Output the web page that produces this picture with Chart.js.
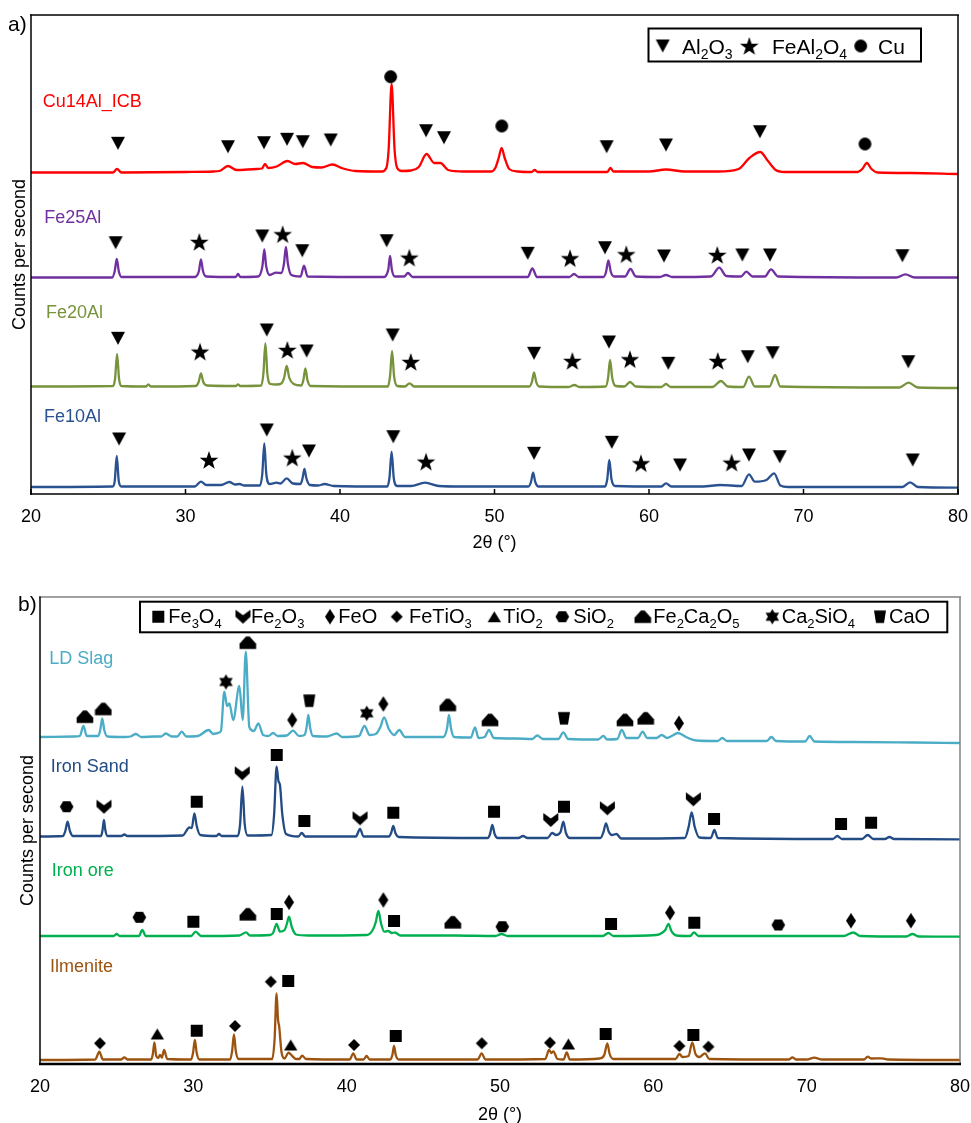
<!DOCTYPE html>
<html><head><meta charset="utf-8">
<script src="https://cdn.jsdelivr.net/npm/chart.js@4/dist/chart.umd.min.js"></script>
<style>
html,body{margin:0;padding:0;background:#fff;overflow:hidden;}
#wrapA{position:absolute;left:0;top:0;width:971px;height:558px;}
#wrapB{position:absolute;left:0;top:558px;width:971px;height:565px;}
</style></head><body>
<div id="wrapA"><canvas id="ca"></canvas></div>
<div id="wrapB"><canvas id="cb"></canvas></div>
<script>
const FONT = "Arial, 'Liberation Sans', sans-serif";
const xTicks = [20, 30, 40, 50, 60, 70, 80];

// ---------- Panel a: patterns [2θ, stacked counts] ----------
const cu14Al = [[20,321.5],[25.3,321.5],[25.57,325],[25.85,321.5],[30,322],[31.8,322.5],[32.2,323],[32.75,328],[33.3,324],[34.6,325],[34.95,325.5],[35.15,330],[35.35,326],[35.9,327.5],[36.6,333],[37.1,330],[37.6,331],[38.2,327],[38.8,326.5],[39.5,329.5],[40.2,325.5],[41,323],[42.7,322.5],[43.0,326],[43.15,345],[43.34,410],[43.53,345],[43.7,326],[44.0,323],[44.6,323.5],[45.1,327],[45.6,340],[46.1,331],[46.5,331],[47.0,324],[48,322.5],[49.8,322.5],[50.05,326],[50.27,336],[50.46,346],[50.66,336],[50.95,325],[51.5,322.5],[52.4,322],[52.6,324],[52.8,322],[55,322],[57.3,322],[57.5,326],[57.7,322.5],[60,322.5],[61.1,324.5],[62.3,322.5],[64.5,322.5],[65.8,325],[66.5,336],[67.2,342],[67.7,333],[68.2,324],[68.8,322],[73.5,322],[73.8,325],[74.1,331],[74.4,325],[74.8,321.5],[77,321],[80,320]];
const fe25Al = [[20,216.5],[25.25,216.5],[25.42,223],[25.55,235],[25.68,223],[25.85,217],[30.6,217],[30.87,223],[31.0,234.7],[31.13,223],[31.35,217.5],[33.25,217],[33.4,220],[33.55,217],[34.7,217.5],[34.98,228],[35.1,244.7],[35.22,228],[35.45,219],[35.86,221.3],[36.2,221],[36.37,230],[36.5,247],[36.63,230],[36.85,219],[37.45,217.5],[37.67,228.3],[37.9,217.5],[42.8,217],[43.12,224],[43.24,238],[43.36,224],[43.55,217.5],[44.15,217.5],[44.4,221],[44.7,217],[52.15,217],[52.45,225.5],[52.75,217],[54.85,217],[55.15,220],[55.45,217],[57.05,217],[57.22,222],[57.37,233.7],[57.53,222],[57.75,217.5],[58.45,217.5],[58.8,225],[59.15,217.5],[60.7,217],[61.1,219],[61.5,217],[64.0,217.5],[64.55,226.3],[65.0,218],[65.95,217.5],[66.3,222.3],[66.7,217.5],[67.5,217.5],[67.9,224.7],[68.35,217.5],[76.0,216.5],[76.6,219.7],[77.2,216.5],[80,216.5]];
const fe20Al = [[20,107.5],[25.3,108],[25.44,115],[25.57,140],[25.7,115],[25.85,108],[27.45,107.5],[27.6,109.7],[27.75,107.5],[30.65,108],[30.85,112],[31.0,120.7],[31.15,112],[31.4,108.5],[33.25,108],[33.4,109.7],[33.55,108],[34.9,108.5],[35.04,120],[35.17,150.7],[35.3,120],[35.5,110],[35.9,109.5],[36.2,110.5],[36.38,116],[36.55,128],[36.72,116],[37.0,110],[37.5,108.5],[37.63,114],[37.76,125.7],[37.89,114],[38.1,108],[43.1,107.5],[43.24,118],[43.37,143],[43.5,118],[43.7,108],[44.2,107.5],[44.5,110.7],[44.8,107.5],[52.25,107.5],[52.42,112],[52.56,121.7],[52.7,112],[52.9,107.5],[54.8,107],[55.17,109],[55.5,107],[57.2,107.5],[57.35,116],[57.48,134],[57.62,116],[57.85,108],[58.4,107.5],[58.77,112],[59.15,107.5],[60.8,107],[61.1,110],[61.4,107],[64.1,107],[64.66,113],[65.1,107.5],[66.1,107],[66.47,117.3],[66.85,107.5],[67.8,107.5],[68.16,119],[68.5,107.5],[76.2,106.5],[76.8,111.3],[77.4,106.5],[80,106]];
const fe10Al = [[20,7],[25.28,7.5],[25.42,13],[25.55,38],[25.68,13],[25.85,7.5],[30.6,7.5],[31.0,12.3],[31.35,9],[32.3,9],[32.84,12],[33.2,9.5],[33.5,10],[33.8,8.5],[34.82,8.5],[34.97,20],[35.1,50.7],[35.23,20],[35.45,10],[35.9,11.3],[36.15,10.5],[36.55,15.7],[36.95,10.5],[37.45,10],[37.58,16],[37.7,25],[37.82,16],[38.05,9],[38.6,8.5],[39.0,10],[39.6,8],[43.05,7.5],[43.2,16],[43.34,42.3],[43.48,16],[43.7,8],[44.6,8],[45.5,11.3],[46.4,8],[48,7.5],[52.2,7.5],[52.36,12],[52.5,21.3],[52.64,12],[52.85,7.5],[57.15,7.5],[57.3,15],[57.43,34],[57.57,15],[57.8,8],[60.8,7.5],[61.1,10.7],[61.45,7.5],[63.5,7.5],[64.6,9],[66.0,8],[66.47,19.7],[66.85,12.3],[67.6,14],[68.1,20.7],[68.5,8.5],[69,7],[76.4,7],[76.9,11.7],[77.4,7],[80,6.3]];

// Panel a phase markers [2θ, counts]
const aAl2O3 = [[25.63,350.7],[32.75,347.3],[35.08,351.3],[36.57,354.7],[37.59,352.3],[39.4,354],[45.57,363.3],[46.73,356.3],[57.26,347.3],[61.1,349],[67.18,362.3],
 [25.48,251.3],[34.97,258],[37.56,243.3],[43.02,253.3],[52.15,240.7],[57.15,246.3],[60.97,238],[66.04,239],[67.83,239],[76.4,238.3],
 [25.63,155.7],[35.26,164],[37.84,143],[43.41,159],[52.56,140.7],[57.41,152],[61.25,130.7],[66.39,137.3],[68.0,141.3],[76.78,132.3],
 [25.7,55],[35.26,64],[37.99,43],[43.45,57.3],[52.56,40.7],[57.59,51.7],[62.01,29],[66.47,39],[68.46,37.3],[77.07,34]];
const aFeAl2O4 = [[30.89,252],[36.29,259.7],[44.49,236.3],[54.89,235.7],[58.53,239.7],[64.42,239],
 [30.94,142.3],[36.59,144],[44.58,132],[55.04,133],[58.77,134.7],[64.45,133],
 [31.52,34],[36.91,36.3],[45.57,32.3],[59.48,30.7],[65.35,31.3]];
const aCu = [[43.28,417.3],[50.47,368],[73.98,350]];

// ---------- Panel b ----------
const ldSlag = [[20,327],[22.2,327.5],[22.6,328],[22.83,338],[23.05,328],[23.8,328],[23.93,334],[24.06,345.7],[24.19,334],[24.4,327.5],[25.5,327],[25.9,327.5],[26.26,330],[26.6,327],[27.5,327.5],[27.9,327.5],[28.2,330.5],[28.6,327.5],[28.95,327.5],[29.24,332.3],[29.55,327.5],[30.3,328],[31.0,334],[31.3,330],[31.6,331],[31.8,333],[32.02,372.3],[32.2,358],[32.35,360.7],[32.6,344],[33.0,378],[33.22,344],[33.42,412.3],[33.65,337],[33.95,333],[34.24,340.7],[34.55,329],[34.9,328],[35.2,331],[35.5,328],[36.1,328.5],[36.5,333.3],[36.9,328],[37.25,329],[37.38,336],[37.5,349],[37.62,336],[37.8,328],[38.7,327.5],[39.35,330.5],[39.7,327],[40.8,328],[41.16,338],[41.5,329],[41.9,330],[42.2,337],[42.44,346.7],[42.75,335],[43.1,329],[43.43,334],[43.8,327],[46.3,327],[46.55,336],[46.67,349],[46.8,336],[47.0,327],[48.1,326.5],[48.37,336.7],[48.6,326],[49.0,327],[49.28,334],[49.6,326],[51,325.5],[52.1,325],[52.43,328.5],[52.8,325],[53.8,325],[54.13,331.7],[54.45,325],[56.4,324.5],[56.74,328],[57.0,324.5],[57.65,325],[57.94,334],[58.25,326],[59.0,326],[59.3,332.3],[59.6,326],[60.2,326],[60.55,329],[60.9,326],[61.2,328],[61.6,331],[62.2,326.5],[62.8,323.5],[64.2,323],[64.5,326],[64.8,323],[67.4,323],[67.7,327],[68.0,323],[69.9,322.5],[70.2,328],[70.5,322.5],[73,322],[77,321.5],[80,321]];
const ironSand = [[20,227.5],[21.5,228],[21.65,233],[21.8,242.3],[21.95,233],[22.15,228],[23.98,228],[24.08,234],[24.17,244],[24.26,234],[24.4,228],[25.3,228],[25.5,229.5],[25.7,228],[29.3,228.5],[29.74,236.5],[29.9,236],[30.07,250.7],[30.22,238],[30.45,229],[31.5,228],[31.67,230],[31.85,228],[32.9,228],[33.05,240],[33.2,277.3],[33.35,240],[33.55,228.5],[35.1,229],[35.27,250],[35.43,297.3],[35.55,283],[35.65,279],[35.8,250],[36.05,230],[36.85,227.5],[37.07,231],[37.3,227.5],[40.6,227.5],[40.87,235],[41.1,227.5],[42.75,227.5],[42.9,231],[43.04,238],[43.18,231],[43.4,227],[49.2,226],[49.35,230],[49.5,239],[49.65,230],[49.85,226],[51.2,226],[51.5,228],[51.8,226],[53.1,226],[53.4,231],[53.65,229],[53.95,232],[54.13,242.3],[54.3,231],[54.55,226],[56.55,226],[56.75,232],[56.91,240.7],[57.1,232],[57.3,229],[57.6,230],[57.9,225.5],[62.05,226],[62.3,237],[62.5,251.7],[62.7,237],[63.0,226.5],[63.75,226],[63.98,234],[64.2,226],[71.7,225],[72.0,228],[72.3,225],[73.6,225],[73.98,229],[74.35,225],[75.1,225],[75.4,227],[75.7,225],[80,224.7]];
const ironOre = [[20,128],[24.8,128],[25.0,130],[25.2,128],[26.45,128],[26.67,134],[26.9,128],[29.85,128],[30.15,132.3],[30.5,128],[33.0,128.5],[33.44,131.7],[33.7,128.5],[35.0,129],[35.2,131],[35.43,140],[35.65,132.3],[35.95,134],[36.1,140],[36.24,147.3],[36.42,137],[36.7,129.5],[37.5,128.5],[41.3,129],[41.7,134],[41.9,142],[42.07,153],[42.25,140],[42.45,132.3],[42.7,133],[42.95,131],[43.15,131.5],[43.5,128.5],[47.0,128.5],[49.7,128],[50.1,130],[50.5,128],[56.7,128],[57.07,131],[57.4,128],[60.2,129],[60.6,131.5],[60.8,134.5],[60.98,140],[61.2,132.3],[61.5,128.5],[62.4,128],[62.65,131.5],[62.95,128],[72.4,128],[73.04,131.5],[73.5,128],[76.5,127.5],[76.9,130],[77.3,127.5],[80,127.3]];
const ilmenite = [[20,4],[23.6,4.5],[23.87,12.3],[24.1,4.5],[25.3,4.5],[25.5,6.7],[25.7,4.5],[27.25,4.5],[27.36,10],[27.46,21.7],[27.58,8],[27.7,6],[27.83,9],[27.95,6.5],[28.09,14],[28.3,5],[29.85,4.5],[29.98,11],[30.1,24],[30.22,11],[30.4,4.5],[32.4,4.5],[32.53,13],[32.65,29.7],[32.77,13],[32.95,5],[35.15,5],[35.3,25],[35.43,70.7],[35.52,45],[35.6,37.3],[35.75,12],[35.95,5.5],[36.2,11.3],[36.45,8],[36.7,5],[36.9,5],[37.1,8.3],[37.35,5],[40.2,4.5],[40.43,10.7],[40.65,4.5],[41.1,4.5],[41.3,8],[41.5,4.5],[42.85,4.5],[42.98,9],[43.09,18],[43.2,9],[43.4,4.5],[48.55,4.5],[48.8,10.7],[49.05,4.5],[52.95,5],[53.2,14],[53.35,11],[53.48,12.7],[53.75,5],[54.15,4.5],[54.35,11.7],[54.55,4.5],[56.5,5.5],[56.8,9],[57.0,20.7],[57.15,10],[57.4,5],[61.45,5],[61.7,10],[61.9,7],[62.3,8],[62.54,21.7],[62.75,10],[63.0,7],[63.37,10.7],[63.65,5],[68.85,4.5],[69.07,6.7],[69.3,4.5],[70.0,4.5],[70.5,6.3],[71.0,4.5],[73.75,4.5],[73.98,7.3],[74.2,5.5],[74.9,5.7],[75.3,4.5],[80,4]];

// Panel b phase markers
const bFe3O4 = [[30.22,262.3],[35.44,309],[37.24,243],[43.04,251.3],[49.61,252.3],[54.17,257.3],[63.96,245],[72.24,240],[74.2,241.3],
 [30.0,142.3],[35.44,150],[43.09,143],[57.24,140],[62.67,141.3],
 [30.22,33.3],[36.19,83],[43.2,28],[56.89,30],[62.61,29]];
const bFe2O3 = [[24.17,257.3],[33.19,290.7],[40.87,245.7],[53.31,244],[57.0,255.7],[62.61,264.7]];
const bFeO = [[36.45,344],[42.39,360],[61.67,340.7],[36.24,161.7],[42.39,164],[61.09,151.3],[72.89,143.3],[76.8,143.3]];
const bFeTiO3 = [[23.91,20.7],[32.72,38],[35.05,82.3],[40.48,19],[48.81,20.7],[53.26,21.3],[61.7,18],[63.59,17.3]];
const bTiO2 = [[27.65,30],[36.35,19],[54.46,20]];
const bSiO2 = [[21.74,257.3],[26.48,146.7],[50.15,137.3],[68.15,139]];
const bFe2Ca2O5 = [[22.93,347.3],[24.13,355],[33.55,421.3],[46.59,359],[49.35,344],[58.15,344],[59.5,345.7],[33.55,149.7],[46.92,141.7]];
const bCa2SiO4 = [[32.13,382],[41.31,350.7]];
const bCaO = [[37.56,363.3],[54.17,345.7]];

// ---------- marker glyphs ----------
function mk(w,h,draw){const c=document.createElement('canvas');c.width=w;c.height=h;const g=c.getContext('2d');g.fillStyle='#000';g.translate(w/2,h/2);draw(g);return c;}
function poly(g,pts){g.beginPath();pts.forEach(([x,y],i)=>i?g.lineTo(x,y):g.moveTo(x,y));g.closePath();g.fill();}
function starPts(n,R,r,dy){const p=[];for(let i=0;i<2*n;i++){const rr=i%2?r:R;const a=-Math.PI/2+i*Math.PI/n;p.push([rr*Math.cos(a),rr*Math.sin(a)+dy]);}return p;}
const SH = {
  triDown: mk(16,15,g=>poly(g,[[-7,-6.5],[7,-6.5],[0,6.5]])),
  star5: mk(22,22,g=>poly(g,starPts(5,9.8,3.9,0.8))),
  circle: mk(15,15,g=>{g.beginPath();g.arc(0,0,6.4,0,2*Math.PI);g.fill();}),
  square: mk(14,14,g=>g.fillRect(-6,-6,12,12)),
  chevron: mk(17,16,g=>poly(g,[[-7.5,-7],[0,-1.5],[7.5,-7],[7.5,0],[0,7],[-7.5,0]])),
  diamondTall: mk(12,17,g=>poly(g,[[0,-7.8],[5,0],[0,7.8],[-5,0]])),
  diamond: mk(14,14,g=>poly(g,[[0,-6],[6,0],[0,6],[-6,0]])),
  triUp: mk(15,13,g=>poly(g,[[0,-5.6],[6.7,5.6],[-6.7,5.6]])),
  hexagon: mk(15,13,g=>poly(g,[[-6.8,0],[-3.6,-5.6],[3.6,-5.6],[6.8,0],[3.6,5.6],[-3.6,5.6]])),
  house: mk(18,15,g=>poly(g,[[-8.3,6.3],[8.3,6.3],[8.3,1],[1.8,-6.3],[-1.8,-6.3],[-8.3,1]])),
  star6: mk(17,17,g=>{poly(g,[[0,-7.8],[6.75,3.9],[-6.75,3.9]]);poly(g,[[0,7.8],[6.75,-3.9],[-6.75,-3.9]]);}),
  trapezoid: mk(14,15,g=>poly(g,[[-6,-6.3],[6,-6.3],[4,6.3],[-4,6.3]]))
};

const toXY = arr => arr.map(([x,y])=>({x,y}));
function lineDS(arr,color){return {type:'line',data:toXY(arr),borderColor:color,borderWidth:2.3,pointRadius:0,fill:false,cubicInterpolationMode:'monotone'};}
function markDS(arr,shape){return {type:'scatter',data:toXY(arr),pointStyle:shape,pointRadius:6,showLine:false,backgroundColor:'#000',borderWidth:0};}

function richText(ctx,str,x,y,size,subSize,drop){
  let cx=x;
  for(let i=0;i<str.length;i++){
    const ch=str[i];
    if(ch==='_'){const s=str[++i];ctx.font=`${subSize}px ${FONT}`;ctx.fillText(s,cx,y+drop);cx+=ctx.measureText(s).width;}
    else{ctx.font=`${size}px ${FONT}`;ctx.fillText(ch,cx,y);cx+=ctx.measureText(ch).width;}
  }
}

const decor = {
  id:'decor',
  afterDatasetsDraw(chart,args,o){
    const {ctx,chartArea:{left,right,top,bottom},scales:{x,y}} = chart;
    ctx.save();
    // series labels
    ctx.textBaseline='middle';ctx.textAlign='left';
    ctx.font=`18px ${FONT}`;
    o.labels.forEach(l=>{ctx.fillStyle=l.color;ctx.fillText(l.text,x.getPixelForValue(l.x),y.getPixelForValue(l.y));});
    // frame
    const line=(x1,y1,x2,y2,c,w)=>{ctx.strokeStyle=c;ctx.lineWidth=w;ctx.beginPath();ctx.moveTo(x1,y1);ctx.lineTo(x2,y2);ctx.stroke();};
    const f=o.frame;
    line(left-1,top,right+1,top,f.top,f.topW);
    line(right,top,right,bottom,f.right,f.rightW);
    line(left,top-0.5,left,bottom+1,f.left,f.leftW);
    line(left-1,bottom,right+1,bottom,f.bottom,f.bottomW);
    if(f.ticks){xTicks.forEach(v=>{const px=x.getPixelForValue(v);line(px,bottom,px,bottom-f.ticks,'#000',1.5);});}
    // legend
    const L=o.legend;
    ctx.fillStyle='#fff';ctx.fillRect(L.box[0],L.box[1],L.box[2]-L.box[0],L.box[3]-L.box[1]);
    ctx.strokeStyle='#000';ctx.lineWidth=2;ctx.strokeRect(L.box[0],L.box[1],L.box[2]-L.box[0],L.box[3]-L.box[1]);
    ctx.textBaseline='alphabetic';ctx.fillStyle='#000';
    L.items.forEach(it=>{
      const s=it.shape; ctx.drawImage(s,it.cx-s.width/2,L.cy-s.height/2);
      richText(ctx,it.text,it.tx,L.base,L.size,L.sub,L.drop);
    });
    // panel letter
    ctx.font=`21px ${FONT}`;ctx.fillStyle='#000';
    ctx.fillText(o.letter.text,o.letter.x,o.letter.y);
    ctx.restore();
  }
};

function makeOptions(cfg){
  return {
    responsive:true,maintainAspectRatio:false,animation:false,devicePixelRatio:1,events:[],
    layout:{padding:{top:cfg.padTop,right:cfg.padRight,left:0,bottom:0}},
    plugins:{legend:{display:false},tooltip:{enabled:false},decor:cfg.decor},
    scales:{
      x:{type:'linear',min:20,max:80,
        afterBuildTicks:s=>{s.ticks=xTicks.map(v=>({value:v}));},
        ticks:{color:'#000',font:{family:FONT,size:18},padding:0,maxRotation:0,autoSkip:false},
        grid:{display:false,drawTicks:true,tickLength:12},border:{display:false},
        title:{display:true,text:'2θ (°)',color:'#000',font:{family:FONT,size:18},padding:{top:0,bottom:cfg.xTitlePad}},
        afterFit:s=>{s.height=cfg.xHeight;}},
      y:{type:'linear',min:0,max:cfg.yMax,
        ticks:{display:false},grid:{display:false,drawTicks:false},border:{display:false},
        title:{display:true,text:'Counts per second',color:'#000',font:{family:FONT,size:18},padding:{top:cfg.yTitlePad,bottom:0}},
        afterFit:s=>{s.width=cfg.yWidth;}}
    }
  };
}

// ---------- Chart a ----------
new Chart(document.getElementById('ca'),{
  type:'line',
  plugins:[decor],
  data:{datasets:[
    markDS(aAl2O3,SH.triDown),markDS(aFeAl2O4,SH.star5),markDS(aCu,SH.circle),
    lineDS(cu14Al,'#FF0000'),lineDS(fe25Al,'#7030A0'),lineDS(fe20Al,'#77933C'),lineDS(fe10Al,'#2A5290')
  ]},
  options:makeOptions({padTop:15,padRight:13,xHeight:64,xTitlePad:4,yMax:479,yWidth:31,yTitlePad:9.7,
    decor:{
      labels:[{text:'Cu14Al_ICB',color:'#FF0000',x:20.76,y:392.3},{text:'Fe25Al',color:'#7030A0',x:20.86,y:275.7},
              {text:'Fe20Al',color:'#77933C',x:20.97,y:180.7},{text:'Fe10Al',color:'#2A5290',x:20.84,y:76.7}],
      frame:{top:'#000',topW:1.5,right:'#000',rightW:1.5,left:'#000',leftW:1.5,bottom:'#000',bottomW:1.7,ticks:5},
      legend:{box:[648.5,28.5,921,61.5],size:21,sub:14,drop:5,base:54.3,cy:46,
        items:[{shape:SH.triDown,cx:662.7,tx:682,text:'Al_2O_3'},{shape:SH.star5,cx:749.3,tx:772,text:'FeAl_2O_4'},{shape:SH.circle,cx:860.7,tx:878,text:'Cu'}]},
      letter:{text:'a)',x:8,y:30.5}
    }})
});

// ---------- Chart b ----------
new Chart(document.getElementById('cb'),{
  type:'line',
  plugins:[decor],
  data:{datasets:[
    markDS(bFe3O4,SH.square),markDS(bFe2O3,SH.chevron),markDS(bFeO,SH.diamondTall),markDS(bFeTiO3,SH.diamond),
    markDS(bTiO2,SH.triUp),markDS(bSiO2,SH.hexagon),markDS(bFe2Ca2O5,SH.house),markDS(bCa2SiO4,SH.star6),markDS(bCaO,SH.trapezoid),
    lineDS(ldSlag,'#4BACC6'),lineDS(ironSand,'#234B84'),lineDS(ironOre,'#00B050'),lineDS(ilmenite,'#9C5310')
  ]},
  options:makeOptions({padTop:39,padRight:11,xHeight:59,xTitlePad:-2.8,yMax:467,yWidth:40,yTitlePad:17,
    decor:{
      labels:[{text:'LD Slag',color:'#4BACC6',x:20.6,y:404.7},{text:'Iron Sand',color:'#234B84',x:20.7,y:297.3},
              {text:'Iron ore',color:'#00B050',x:20.76,y:193.3},{text:'Ilmenite',color:'#9C5310',x:20.65,y:97.3}],
      frame:{top:'#808080',topW:1.5,right:'#808080',rightW:1.5,left:'#000',leftW:1.5,bottom:'#000',bottomW:2.6,ticks:0},
      legend:{box:[140,43.7,947.3,74.3],size:20,sub:13,drop:4.5,base:65.3,cy:58.7,
        items:[{shape:SH.square,cx:158.3,tx:168.3,text:'Fe_3O_4'},{shape:SH.chevron,cx:243,tx:251,text:'Fe_2O_3'},
               {shape:SH.diamondTall,cx:330,tx:338.3,text:'FeO'},{shape:SH.diamond,cx:396.7,tx:409,text:'FeTiO_3'},
               {shape:SH.triUp,cx:494.3,tx:503.3,text:'TiO_2'},{shape:SH.hexagon,cx:562.3,tx:573.3,text:'SiO_2'},
               {shape:SH.house,cx:642.7,tx:653.3,text:'Fe_2Ca_2O_5'},{shape:SH.star6,cx:772.3,tx:781.7,text:'Ca_2SiO_4'},
               {shape:SH.trapezoid,cx:880,tx:889,text:'CaO'}]},
      letter:{text:'b)',x:18,y:52.5}
    }})
});
</script>
</body></html>
